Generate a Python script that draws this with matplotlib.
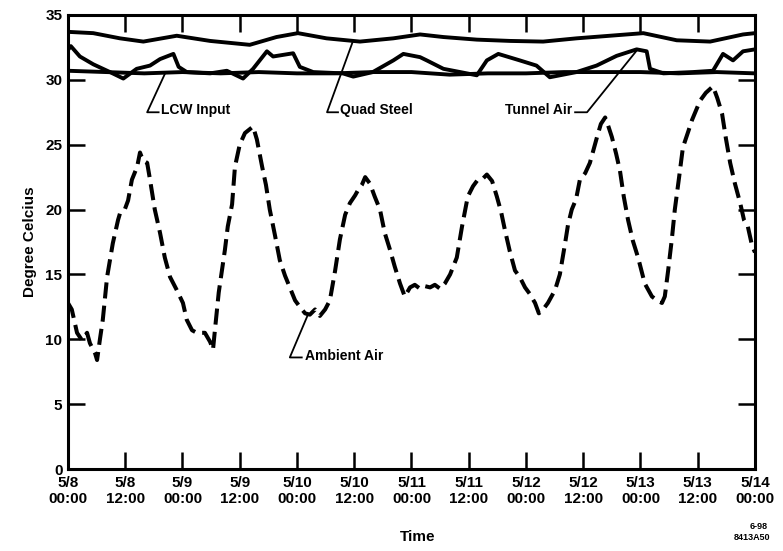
import matplotlib
matplotlib.use("Agg")
import matplotlib.pyplot as plt
import numpy as np

# hours since 5/8 00:00
quad_h = [0, 5.3, 10.9, 15.8, 22.8, 29.8, 38.1, 43.7, 48.2, 54.2, 61.2, 68.2,
          73.8, 78.7, 85.7, 92.7, 99.6, 106.6, 113.6, 120.6, 127.6, 134.6, 141.5, 144]
quad_t = [33.7, 33.6, 33.2, 32.95, 33.4, 33.0, 32.7, 33.3, 33.6, 33.2, 32.95, 33.2,
          33.5, 33.3, 33.1, 33.0, 32.95, 33.2, 33.4, 33.6, 33.05, 32.95, 33.5, 33.6]

tunnel_h = [0, 0.6, 2.5, 5.3, 8.8, 11.6, 14.4, 17.2, 19.3, 22.1, 23.2, 24.9, 29.8,
            33.3, 36.7, 38.8, 41.7, 43.0, 47.2, 48.6, 51.4, 57.6, 59.8, 63.9, 68.2,
            70.3, 73.8, 75.2, 78.7, 82.2, 85.7, 87.8, 90.2, 94.7, 98.2, 101.0, 103.1,
            106.6, 110.8, 115.0, 119.2, 121.3, 122.0, 124.8, 131.0, 135.2, 137.3,
            139.4, 141.5, 144]
tunnel_t = [32.3, 32.6, 31.8, 31.2, 30.6, 30.1, 30.85, 31.1, 31.6, 32.0, 31.0, 30.6, 30.5,
            30.7, 30.1, 30.85, 32.2, 31.8, 32.05, 31.0, 30.6, 30.5, 30.25, 30.6, 31.5,
            32.0, 31.75, 31.5, 30.85, 30.6, 30.35, 31.5, 32.0, 31.5, 31.1, 30.2, 30.35,
            30.6, 31.1, 31.85, 32.35, 32.2, 30.85, 30.5, 30.6, 30.7, 32.0,
            31.5, 32.2, 32.35]

lcw_h = [0, 8, 16, 24, 32, 40, 48, 56, 64, 72, 80, 88, 96, 104, 112, 120, 128, 136, 144]
lcw_t = [30.7, 30.6, 30.5, 30.6, 30.5, 30.6, 30.5, 30.5, 30.6, 30.6, 30.4, 30.5,
         30.5, 30.6, 30.6, 30.6, 30.5, 30.6, 30.5]

amb_h = [0, 0.8, 1.9, 2.9, 4.0, 4.6, 5.7, 6.1, 6.7, 7.3, 8.2, 9.4, 10.5, 10.9, 11.9,
         12.6, 13.4, 14.5, 15.1, 15.7, 16.6, 17.2, 18.2, 19.3, 20.3, 21.4, 22.8, 24.1,
         24.9, 26.0, 27.0, 28.7, 29.8, 30.4, 30.8, 31.6, 32.9, 33.5, 34.4, 35.0, 36.0,
         37.1, 38.1, 38.8, 39.6, 40.7, 41.5, 42.3, 43.4, 44.4, 45.5, 46.5, 47.6, 48.6,
         49.7, 50.7, 51.8, 52.8, 53.9, 54.9, 56.0, 57.0, 58.1, 59.1, 60.2, 60.8, 61.6,
         62.3, 63.3, 64.3, 65.4, 66.4, 67.5, 68.5, 69.6, 70.6, 71.7, 72.7, 73.8, 74.8,
         75.9, 76.9, 78.0, 79.0, 80.1, 81.5, 82.6, 83.8, 84.9, 85.9, 87.0, 87.8, 88.9,
         89.9, 90.8, 91.6, 92.6, 93.7, 94.7, 95.8, 96.8, 97.9, 98.7, 99.6, 100.6, 102.1,
         103.1, 104.2, 104.8, 105.6, 106.5, 107.3, 108.4, 109.4, 110.3, 110.9, 111.7,
         112.6, 113.2, 114.0, 114.9, 115.7, 116.5, 117.4, 118.4, 119.5, 120.9, 122.4,
         123.5, 124.5, 125.1, 125.8, 126.6, 127.2, 128.1, 128.9, 130.0, 130.8, 131.6,
         132.5, 133.7, 135.2, 136.1, 137.1, 137.9, 138.8, 139.8, 140.9, 141.7, 142.5,
         143.4, 144.0]
amb_t = [12.8, 12.3, 10.5, 9.95, 10.5, 9.7, 8.9, 8.4, 10.0, 11.5, 14.8, 17.4, 19.2, 19.7, 20.0,
         20.7, 22.3, 23.3, 24.4, 23.8, 23.6, 22.3, 20.0, 18.2, 16.3, 14.8, 13.8, 12.8,
         11.5, 10.7, 10.5, 10.5, 9.8, 9.2, 10.7, 13.6, 16.9, 18.7, 20.4, 23.3, 25.0,
         25.9, 26.2, 26.4, 25.4, 23.3, 21.9, 20.0, 18.0, 16.1, 14.9, 14.0, 13.0, 12.5,
         12.0, 11.9, 12.3, 11.8, 12.3, 13.0, 15.3, 17.7, 19.6, 20.5, 21.1, 21.5, 21.9,
         22.5, 22.0, 21.0, 20.0, 18.2, 16.9, 15.6, 14.3, 13.3, 14.0, 14.2, 13.9, 14.1,
         14.0, 14.2, 13.9, 14.3, 15.0, 16.3, 18.7, 21.0, 21.8, 22.3, 22.4, 22.7, 22.2,
         21.0, 19.8, 18.4, 16.8, 15.3, 14.8, 14.0, 13.5, 12.8, 12.0, 12.3, 12.8, 13.8,
         15.0, 17.4, 18.8, 20.0, 20.8, 22.3, 22.8, 23.6, 24.8, 25.6, 26.6,
         27.1, 26.5, 25.6, 24.3, 23.0, 21.0, 19.2, 17.6, 16.3, 14.3, 13.3,
         13.0, 12.8, 13.3, 15.3, 17.8, 20.0, 22.5, 24.8, 26.0, 26.9, 27.6,
         28.4, 29.0, 29.5, 28.6, 27.4, 25.5, 23.6, 22.0, 20.5, 19.2, 18.7,
         17.2, 16.7]

tick_labels = ["5/8\n00:00", "5/8\n12:00", "5/9\n00:00", "5/9\n12:00", "5/10\n00:00",
               "5/10\n12:00", "5/11\n00:00", "5/11\n12:00", "5/12\n00:00", "5/12\n12:00",
               "5/13\n00:00", "5/13\n12:00", "5/14\n00:00"]

plt.rcParams['font.family'] = ['Liberation Sans', 'DejaVu Sans']
plt.rcParams['font.weight'] = 'bold'

fig = plt.figure(figsize=(7.83, 5.51), dpi=100)
ax = fig.add_axes([0.0868, 0.1488, 0.8774, 0.824])

lw = 2.8
ax.plot(quad_h, quad_t, color='black', lw=lw)
ax.plot(tunnel_h, tunnel_t, color='black', lw=lw)
ax.plot(lcw_h, lcw_t, color='black', lw=lw)
ax.plot(amb_h, amb_t, color='black', lw=2.9, dashes=(4.0, 1.8))

ax.set_xlim(0, 144)
ax.set_ylim(0, 35)
ax.set_xticks(np.arange(0, 145, 12))
ax.set_xticklabels(tick_labels)
ax.set_yticks(np.arange(0, 36, 5))

for s in ax.spines.values():
    s.set_linewidth(2.2)
ax.tick_params(direction='in', length=12, width=1.8, top=True, right=True,
               labelsize=11, pad=4)
ax.tick_params(axis='x', pad=5)
for lab in ax.get_xticklabels() + ax.get_yticklabels():
    lab.set_fontweight('bold')

ax.set_ylabel('Degree Celcius', fontsize=11, fontweight='bold', labelpad=6)
fig.text(0.534, 0.025, 'Time', fontsize=11, fontweight='bold', ha='center', va='center')
fig.text(0.981, 0.044, '6-98', fontsize=6.5, fontweight='bold', ha='right', va='center')
fig.text(0.984, 0.025, '8413A50', fontsize=6.5, fontweight='bold', ha='right', va='center')


def leader(ax, label, point, corner, stub_end, text_xy, ha='left'):
    ax.plot([point[0], corner[0], stub_end[0]], [point[1], corner[1], stub_end[1]],
            color='black', lw=1.3, clip_on=False)
    ax.text(text_xy[0], text_xy[1], label, fontsize=10, fontweight='bold',
            ha=ha, va='center')


leader(ax, 'LCW Input', (20.3, 30.45), (16.6, 27.5), (19.0, 27.5), (19.6, 27.7))
leader(ax, 'Quad Steel', (59.7, 32.95), (54.3, 27.5), (56.6, 27.5), (57.0, 27.7))
leader(ax, 'Tunnel Air', (119.3, 32.3), (108.8, 27.5), (106.3, 27.5), (105.6, 27.7), ha='right')
leader(ax, 'Ambient Air', (50.3, 11.9), (46.5, 8.6), (49.0, 8.6), (49.6, 8.7))

fig.savefig('out.png', dpi=100)
